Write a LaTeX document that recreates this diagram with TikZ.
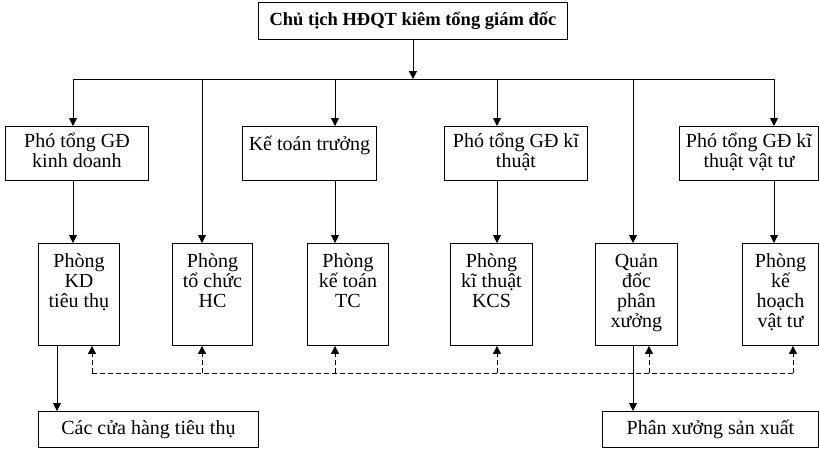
\documentclass[tikz,border=0pt]{standalone}
\usepackage{fontspec}
\setmainfont{Liberation Serif}
\usepackage{tikz}
\usetikzlibrary{arrows.meta}

\begin{document}
\begin{tikzpicture}[x=1pt,y=-1pt,>={Triangle[length=8pt,width=8pt]},
  font=\fontsize{20}{20}\selectfont, line width=0.9pt,
  box/.style={draw,inner sep=0pt,anchor=north west},
  boxText/.style={anchor=north,align=center,inner sep=0pt,yshift=#1,
    execute at begin node=\rule{0pt}{18pt}},
  boxText/.default=-6.5pt,
  mid/.style={minimum width=#1,minimum height=54pt},
  tall/.style={minimum width=#1,minimum height=102pt},
  flat/.style={minimum width=#1,minimum height=36pt}]
\useasboundingbox (0,0) rectangle (819,448);

% Top of the chart.
\node[box,minimum width=309pt,minimum height=37pt,
  font=\bfseries\fontsize{18.5}{20}\selectfont] (chair) at (258,2)
  {Chủ tịch HĐQT kiêm tổng giám đốc};

% Second row: deputies and chief accountant.
\node[box,mid=143pt,label={[boxText]north:Phó tổng GĐ\\kinh doanh}] (vpSales) at (5,126) {};
\node[box,mid=134pt,label={[boxText]north:Kế toán trưởng}] (chiefAcc) at (242,126) {};
\node[box,mid=143pt,label={[boxText]north:Phó tổng GĐ kĩ\\thuật}] (vpTech) at (444,126) {};
\node[box,mid=139pt,label={[boxText]north:Phó tổng GĐ kĩ\\thuật vật tư}] (vpSupply) at (679,126) {};

% Third row: departments.
\node[box,tall=81pt,label={[boxText=-10.5pt]north:Phòng\\KD\\tiêu thụ}] (salesDept) at (38,243) {};
\node[box,tall=80pt,label={[boxText=-10.5pt]north:Phòng\\tổ chức\\HC}] (adminDept) at (172,243) {};
\node[box,tall=81pt,label={[boxText=-10.5pt]north:Phòng\\kế toán\\TC}] (accDept) at (307,243) {};
\node[box,tall=82pt,label={[boxText=-10.5pt]north:Phòng\\kĩ thuật\\KCS}] (kcsDept) at (450,243) {};
\node[box,tall=82pt,label={[boxText=-10.5pt]north:Quản\\đốc\\phân\\xưởng}] (foreman) at (595,243) {};
\node[box,tall=76pt,label={[boxText=-10.5pt]north:Phòng\\kế\\hoạch\\vật tư}] (planDept) at (742,243) {};

% Bottom row.
\node[box,flat=220pt] (shops) at (38,411) {Các cửa hàng tiêu thụ};
\node[box,flat=216pt] (workshop) at (602,411) {Phân xưởng sản xuất};

% Distribution bar under the chairman.
\coordinate (bus) at (0,79);
\draw (bus -| 73,0)--(bus -| 774,0);
\draw[->] (chair.south)--(chair.south |- bus);
\foreach \x/\target in {73/vpSales,335/chiefAcc,497/vpTech,774/vpSupply,202/adminDept,633/foreman}{
  \draw[->] (bus -| \x,0)--(\target.north -| \x,0);
}
\foreach \x/\from/\target in {73/vpSales/salesDept,335/chiefAcc/accDept,497/vpTech/kcsDept,774/vpSupply/planDept}{
  \draw[->] (\from.south -| \x,0)--(\target.north -| \x,0);
}

% Dashed link between departments.
\coordinate (link) at (0,373);
\draw[dash pattern=on 5pt off 3pt] (link -| 92,0)--(link -| 793,0);
\foreach \x/\target in {92/salesDept,202/adminDept,335/accDept,497/kcsDept,649/foreman,793/planDept}{
  \draw[dash pattern=on 5pt off 3pt,->] (link -| \x,0)--(\target.south -| \x,0);
}

% Down to shops and workshop.
\draw[->] (salesDept.south -| 57,0)--(shops.north -| 57,0);
\draw[->] (foreman.south -| 633,0)--(workshop.north -| 633,0);
\end{tikzpicture}
\end{document}
